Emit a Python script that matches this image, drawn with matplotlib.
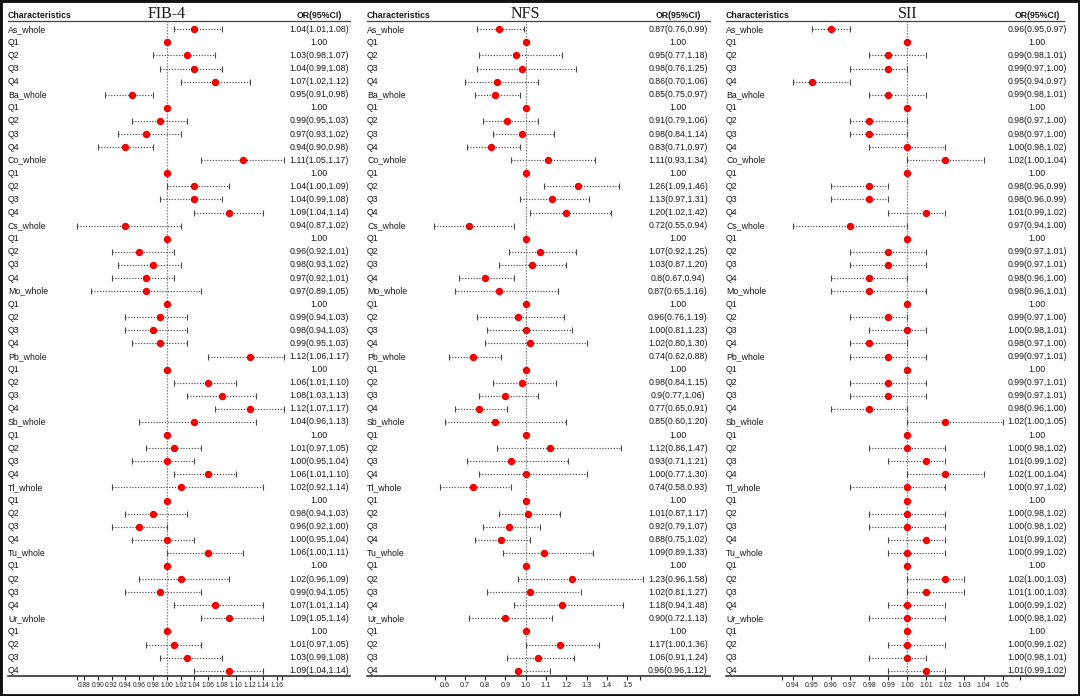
#!/usr/bin/env python3
# -*- coding: utf-8 -*-

import re
import numpy as np
import matplotlib
matplotlib.use("Agg")
import matplotlib.pyplot as plt
from matplotlib import transforms
from matplotlib.patches import Rectangle

plt.rcParams["font.family"] = ["Liberation Sans", "DejaVu Sans"]

# Lienzo (px)
W, H = 1080, 696

# Filas
metales = ["As", "Ba", "Co", "Cs", "Mo", "Pb", "Sb", "Tl", "Tu", "Ur"]
cuartiles = ["Q1", "Q2", "Q3", "Q4"]

# OR(95%CI) tal como aparece en cada panel
fib4_txt = [
    "1.04(1.01,1.08)", "1.00", "1.03(0.98,1.07)", "1.04(0.99,1.08)", "1.07(1.02,1.12)",
    "0.95(0.91,0.98)", "1.00", "0.99(0.95,1.03)", "0.97(0.93,1.02)", "0.94(0.90,0.98)",
    "1.11(1.05,1.17)", "1.00", "1.04(1.00,1.09)", "1.04(0.99,1.08)", "1.09(1.04,1.14)",
    "0.94(0.87,1.02)", "1.00", "0.96(0.92,1.01)", "0.98(0.93,1.02)", "0.97(0.92,1.01)",
    "0.97(0.89,1.05)", "1.00", "0.99(0.94,1.03)", "0.98(0.94,1.03)", "0.99(0.95,1.03)",
    "1.12(1.06,1.17)", "1.00", "1.06(1.01,1.10)", "1.08(1.03,1.13)", "1.12(1.07,1.17)",
    "1.04(0.96,1.13)", "1.00", "1.01(0.97,1.05)", "1.00(0.95,1.04)", "1.06(1.01,1.10)",
    "1.02(0.92,1.14)", "1.00", "0.98(0.94,1.03)", "0.96(0.92,1.00)", "1.00(0.95,1.04)",
    "1.06(1.00,1.11)", "1.00", "1.02(0.96,1.09)", "0.99(0.94,1.05)", "1.07(1.01,1.14)",
    "1.09(1.05,1.14)", "1.00", "1.01(0.97,1.05)", "1.03(0.99,1.08)", "1.09(1.04,1.14)",
]
nfs_txt = [
    "0.87(0.76,0.99)", "1.00", "0.95(0.77,1.18)", "0.98(0.76,1.25)", "0.86(0.70,1.06)",
    "0.85(0.75,0.97)", "1.00", "0.91(0.79,1.06)", "0.98(0.84,1.14)", "0.83(0.71,0.97)",
    "1.11(0.93,1.34)", "1.00", "1.26(1.09,1.46)", "1.13(0.97,1.31)", "1.20(1.02,1.42)",
    "0.72(0.55,0.94)", "1.00", "1.07(0.92,1.25)", "1.03(0.87,1.20)", "0.8(0.67,0.94)",
    "0.87(0.65,1.16)", "1.00", "0.96(0.76,1.19)", "1.00(0.81,1.23)", "1.02(0.80,1.30)",
    "0.74(0.62,0.88)", "1.00", "0.98(0.84,1.15)", "0.9(0.77,1.06)", "0.77(0.65,0.91)",
    "0.85(0.60,1.20)", "1.00", "1.12(0.86,1.47)", "0.93(0.71,1.21)", "1.00(0.77,1.30)",
    "0.74(0.58,0.93)", "1.00", "1.01(0.87,1.17)", "0.92(0.79,1.07)", "0.88(0.75,1.02)",
    "1.09(0.89,1.33)", "1.00", "1.23(0.96,1.58)", "1.02(0.81,1.27)", "1.18(0.94,1.48)",
    "0.90(0.72,1.13)", "1.00", "1.17(1.00,1.36)", "1.06(0.91,1.24)", "0.96(0.96,1.12)",
]
sii_txt = [
    "0.96(0.95,0.97)", "1.00", "0.99(0.98,1.01)", "0.99(0.97,1.00)", "0.95(0.94,0.97)",
    "0.99(0.98,1.01)", "1.00", "0.98(0.97,1.00)", "0.98(0.97,1.00)", "1.00(0.98,1.02)",
    "1.02(1.00,1.04)", "1.00", "0.98(0.96,0.99)", "0.98(0.96,0.99)", "1.01(0.99,1.02)",
    "0.97(0.94,1.00)", "1.00", "0.99(0.97,1.01)", "0.99(0.97,1.01)", "0.98(0.96,1.00)",
    "0.98(0.96,1.01)", "1.00", "0.99(0.97,1.00)", "1.00(0.98,1.01)", "0.98(0.97,1.00)",
    "0.99(0.97,1.01)", "1.00", "0.99(0.97,1.01)", "0.99(0.97,1.01)", "0.98(0.96,1.00)",
    "1.02(1.00,1.05)", "1.00", "1.00(0.98,1.02)", "1.01(0.99,1.02)", "1.02(1.00,1.04)",
    "1.00(0.97,1.02)", "1.00", "1.00(0.98,1.02)", "1.00(0.98,1.02)", "1.01(0.99,1.02)",
    "1.00(0.99,1.02)", "1.00", "1.02(1.00,1.03)", "1.01(1.00,1.03)", "1.00(0.99,1.02)",
    "1.00(0.98,1.02)", "1.00", "1.00(0.99,1.02)", "1.00(0.98,1.01)", "1.01(0.99,1.02)",
]

# Ticks del eje x
fib4_ticks = [0.88, 0.90, 0.92, 0.94, 0.96, 0.98, 1.00, 1.02, 1.04, 1.06, 1.08, 1.10, 1.12, 1.14, 1.16]
nfs_ticks = [0.6, 0.7, 0.8, 0.9, 1.0, 1.1, 1.2, 1.3, 1.4, 1.5]
sii_ticks = [0.94, 0.95, 0.96, 0.97, 0.98, 0.99, 1.00, 1.01, 1.02, 1.03, 1.04, 1.05]

# Geometría (px)
y_sup = 20.5      # línea bajo la cabecera
y_inf = 675.7     # eje x
y_fila0 = 29.3    # primera fila
paso = 13.09
y_cab = 15.5

color_txt = "#1a1a1a"
color_ci = "#4a4a4a"
punteado = (0, (1, 1.4))
tam_txt = 6.3


def parsear(s):
    nums = [float(v) for v in re.findall(r"\d+\.?\d*", s)]
    if len(nums) == 1:
        return nums[0], np.nan, np.nan
    return nums[0], nums[1], nums[2]


def main():
    filas = []
    for m in metales:
        filas += [f"{m}_whole"] + cuartiles

    paneles = [
        dict(titulo="FIB-4", txt=fib4_txt, L=8, R=350, x_ref=166.7, escala=690.0,
             ticks=fib4_ticks, fmt="{:.2f}", extremos=(0.87, 1.167), tam_tick=4.8),
        dict(titulo="NFS", txt=nfs_txt, L=367, R=710, x_ref=525.7, escala=203.0,
             ticks=nfs_ticks, fmt="{:.1f}", extremos=(0.555, 1.565), tam_tick=5.2),
        dict(titulo="SII", txt=sii_txt, L=726, R=1064, x_ref=907.3, escala=1906.0,
             ticks=sii_ticks, fmt="{:.2f}", extremos=(0.934, 1.059), tam_tick=5.0),
    ]

    fig = plt.figure(figsize=(W / 100, H / 100), dpi=100)
    fig.patch.set_facecolor("white")

    n = len(filas)
    y_top = -(y_fila0 - y_sup) / paso
    y_bot = (n - 1) + (y_inf - (y_fila0 + (n - 1) * paso)) / paso

    for p in paneles:
        L, R, xr, esc = p["L"], p["R"], p["x_ref"], p["escala"]
        ax = fig.add_axes([L / W, 1 - y_inf / H, (R - L) / W, (y_inf - y_sup) / H])
        ax.set_xlim(1 - (xr - L) / esc, 1 + (R - xr) / esc)
        ax.set_ylim(y_bot, y_top)
        ax.set_facecolor("none")

        for lado in ("left", "right"):
            ax.spines[lado].set_visible(False)
        ax.spines["top"].set_linewidth(0.9)
        ax.spines["top"].set_color("#444444")
        ax.spines["bottom"].set_linewidth(1.1)
        ax.spines["bottom"].set_color("#222222")

        ax.axvline(1.0, color="#666666", lw=0.9, ls=punteado, zorder=1)

        vals = [parsear(s) for s in p["txt"]]
        orr = np.array([v[0] for v in vals])
        lo = np.array([v[1] for v in vals])
        hi = np.array([v[2] for v in vals])
        ys = np.arange(n)

        con_ci = ~np.isnan(lo)
        ax.hlines(ys[con_ci], lo[con_ci], hi[con_ci], colors=color_ci,
                  linewidth=0.85, linestyles=punteado, zorder=2)
        ax.plot(lo[con_ci], ys[con_ci], ls="none", marker="|", ms=5, mew=0.8,
                color=color_ci, zorder=2)
        ax.plot(hi[con_ci], ys[con_ci], ls="none", marker="|", ms=5, mew=0.8,
                color=color_ci, zorder=2)
        ax.plot(orr, ys, ls="none", marker="o", ms=4.3, color="#ff0000",
                mec="#ee0000", zorder=3, clip_on=False)

        # Textos de filas
        tr = transforms.blended_transform_factory(fig.transFigure, ax.transData)
        for i, (etq, s) in enumerate(zip(filas, p["txt"])):
            ax.text(L / W, i, etq, transform=tr, ha="left", va="center",
                    fontsize=tam_txt, color=color_txt)
            ax.text((L + 311) / W, i, s, transform=tr, ha="center", va="center",
                    fontsize=tam_txt, color=color_txt)

        # Eje x
        ticks = list(p["ticks"]) + list(p["extremos"])
        etiquetas = [p["fmt"].format(t) for t in p["ticks"]] + ["", ""]
        ax.set_xticks(ticks)
        ax.set_xticklabels(etiquetas)
        ax.set_yticks([])
        ax.tick_params(axis="x", direction="out", length=2.6, width=0.8,
                       labelsize=p["tam_tick"], pad=1.8, colors="#222222")

        # Cabecera
        fig.text(L / W, 1 - y_cab / H, "Characteristics", ha="left", va="center",
                 fontsize=tam_txt, weight="bold", color=color_txt)
        fig.text((L + 311) / W, 1 - y_cab / H, "OR(95%CI)", ha="center", va="center",
                 fontsize=tam_txt, weight="bold", color=color_txt)
        fig.text(xr / W, 1 - 13.5 / H, p["titulo"], ha="center", va="center",
                 fontsize=11.5, family=["Liberation Serif", "DejaVu Serif"],
                 color=color_txt)

    # Marco exterior
    fig.add_artist(Rectangle((0, 0), 1, 1, transform=fig.transFigure,
                             fill=False, lw=3.5, ec="#111111"))

    fig.savefig("out.png", dpi=100)


if __name__ == "__main__":
    main()
